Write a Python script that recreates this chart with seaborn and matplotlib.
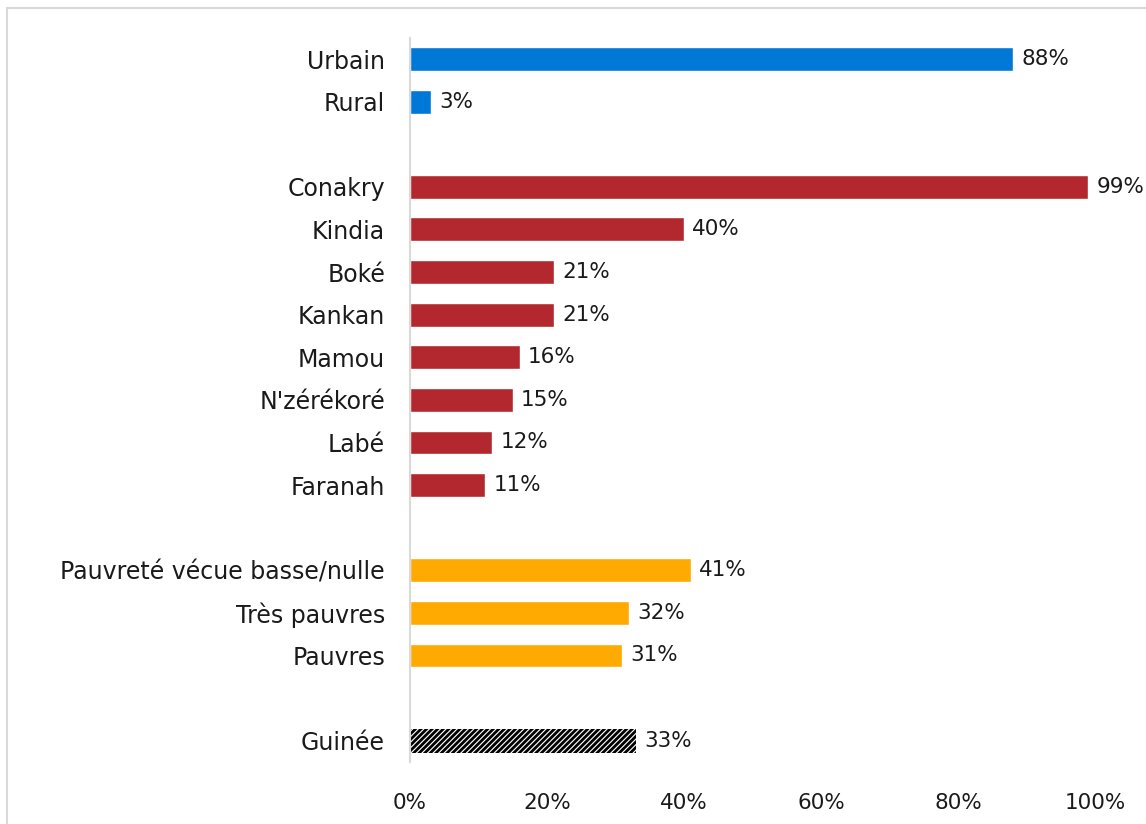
import matplotlib
matplotlib.use("Agg")
import matplotlib.pyplot as plt
import matplotlib.patches as mpatches
import seaborn as sns
import pandas as pd

categories = ["Urbain", "Rural",
              "Conakry", "Kindia", "Boké", "Kankan", "Mamou", "N'zérékoré", "Labé", "Faranah",
              "Pauvreté vécue basse/nulle", "Très pauvres", "Pauvres",
              "Guinée"]
values = [88, 3, 99, 40, 21, 21, 16, 15, 12, 11, 41, 32, 31, 33]
groups = ["milieu", "milieu",
          "region", "region", "region", "region", "region", "region", "region", "region",
          "pauvrete", "pauvrete", "pauvrete",
          "total"]
order = ["Urbain", "Rural", " ",
         "Conakry", "Kindia", "Boké", "Kankan", "Mamou", "N'zérékoré", "Labé", "Faranah", "  ",
         "Pauvreté vécue basse/nulle", "Très pauvres", "Pauvres", "   ",
         "Guinée"]
palette = {"milieu": "#0078D7", "region": "#B3282E", "pauvrete": "#FFAA00", "total": "#FFFFFF"}
xticks = [0, 20, 40, 60, 80, 100]
xticklabels = ["0%", "20%", "40%", "60%", "80%", "100%"]

df = pd.DataFrame({"cat": categories, "val": values, "grp": groups})

sns.set_theme(style="white")
plt.rcParams["font.family"] = ["DejaVu Sans"]
plt.rcParams["hatch.linewidth"] = 2.0

FS = 17
FSV = 15.5

fig = plt.figure(figsize=(11.46, 8.24), dpi=100)
ax = fig.add_axes([410 / 1146, 1 - 762 / 824, 685 / 1146, (762 - 37.7) / 824])

sns.barplot(data=df, x="val", y="cat", hue="grp", order=order, palette=palette,
            orient="h", dodge=False, width=0.56, legend=False, ax=ax, saturation=1)

gi = order.index("Guinée")
for p in ax.patches:
    if abs(p.get_y() + p.get_height() / 2 - gi) < 0.01:
        p.set_facecolor("white")
        p.set_edgecolor("black")
        p.set_hatch("//////")
        p.set_linewidth(0)

for c in ax.containers:
    texts = ax.bar_label(c, labels=[f"{v:.0f}%" if v == v else "" for v in c.datavalues],
                         padding=6, fontsize=FSV, color="#1a1a1a")
    for t in texts:
        t.set_va("center")

ax.set_xlim(0, 100)
ax.set_xticks(xticks)
ax.set_xticklabels(xticklabels, fontsize=FSV, color="#1a1a1a")
ax.set_xlabel("")
ax.set_ylabel("")
ax.tick_params(axis="y", length=0, pad=18, labelsize=FS, labelcolor="#1a1a1a")
ax.tick_params(axis="x", length=0, pad=22)
for s in ["top", "right", "bottom"]:
    ax.spines[s].set_visible(False)
ax.spines["left"].set_color("#d9d9d9")
ax.spines["left"].set_linewidth(1.5)

fig.patches.append(mpatches.Rectangle((7 / 1146, -0.01), 1.02, 1 - 8 / 824 + 0.01,
                                      transform=fig.transFigure, fill=False,
                                      edgecolor="#d9d9d9", linewidth=1.5, zorder=0))

fig.savefig("out.png", dpi=100)
